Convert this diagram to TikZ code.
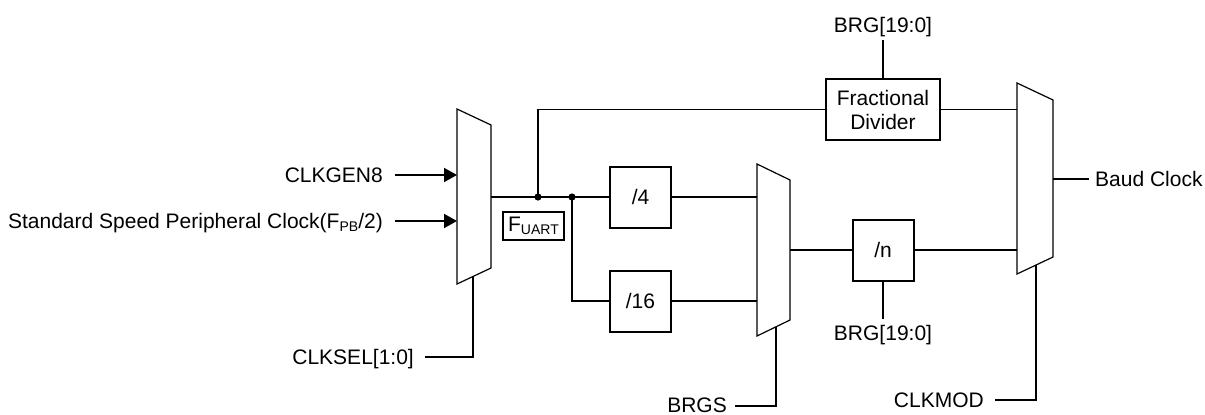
\documentclass[tikz,border=0pt]{standalone}
\usepackage{fontspec}
\setmainfont{Liberation Sans}
\usetikzlibrary{arrows.meta}
\newcommand\lowtxt[1]{\raisebox{-0.3ex}{\fontsize{14}{14}\selectfont #1}}
\begin{document}
\begin{tikzpicture}[x=1pt,y=-1pt, font=\fontsize{21}{24}\selectfont,
  wire/.style={line width=2pt},
  thinwire/.style={line width=1.3pt},
  blk/.style={draw, line width=2pt, minimum width=61pt, minimum height=61pt, inner sep=0pt, align=center},
  oneline/.style={text height=14.7pt, text depth=0pt},
  muxshape/.style={draw, line width=1.2pt, fill=white},
  lbl/.style={inner sep=0pt, text height=14.7pt, text depth=0pt},
  arr/.style={-{Triangle[length=13pt,width=14pt]}}]
\useasboundingbox (0,0) rectangle (1205,415);

% muxes
\draw[muxshape] (457,109) -- (491,125) -- (491,268) -- (457,284) -- cycle;
\draw[muxshape] (757,164) -- (790,180) -- (790,320) -- (757,336) -- cycle;
\draw[muxshape] (1017,83) -- (1053,100) -- (1053,257) -- (1017,274) -- cycle;
\coordinate (m1in1) at (457,175);
\coordinate (m1in2) at (457,221);
\coordinate (m1out) at (491,197);
\coordinate (m1sel) at (473,276.5);
\coordinate (m2in1) at (757,197);
\coordinate (m2in2) at (757,301);
\coordinate (m2out) at (790,250);
\coordinate (m2sel) at (776,326.8);
\coordinate (m3in1) at (1017,109.5);
\coordinate (m3in2) at (1017,250);
\coordinate (m3out) at (1053,179);
\coordinate (m3sel) at (1036,265);

% blocks
\node[blk, oneline] (d4) at (640.5,197) {/4};
\node[blk, oneline] (d16) at (640.5,301) {/16};
\node[blk, oneline] (dn) at (883,250) {/n};
\node[blk, minimum width=114pt] (frac) at (883,109.5) {Fractional\\Divider};
\node[draw, line width=1.6pt, minimum width=61pt, minimum height=28pt, inner sep=0pt] (fu) at (533.5,226) {F\lowtxt{UART}};

% labels
\node[lbl, anchor=east] (clkgen) at (383,175) {CLKGEN8};
\node[lbl, anchor=east] (std) at (383,221) {Standard Speed Peripheral Clock(F\lowtxt{PB}/2)};
\node[lbl, anchor=east] (clksel) at (414,357) {CLKSEL[1:0]};
\node[lbl, anchor=east] (brgs) at (727,405.5) {BRGS};
\node[lbl, anchor=east] (clkmod) at (984,400) {CLKMOD};
\node[lbl] (brgtop) at (883,25) {BRG[19:0]};
\node[lbl] (brgbot) at (883,333) {BRG[19:0]};
\node[lbl, anchor=west] (baud) at (1095,179) {Baud Clock};

% junctions
\coordinate (j1) at (538,197);
\coordinate (j2) at (572,197);

% connectors
\draw[wire, arr, shorten <=12pt] (clkgen.east) -- (m1in1);
\draw[wire, arr, shorten <=12pt] (std.east) -- (m1in2);
\draw[wire, shorten <=11pt] (clksel.east) -| (m1sel);
\draw[wire] (m1out) -- (j1) -- (j2) -- (d4.west);
\draw[thinwire] (j1) |- (frac.west);
\draw[thinwire] (frac.east) -- (m3in1);
\draw[wire] (j2) |- (d16.west);
\draw[wire] (d4.east) -- (m2in1);
\draw[wire] (d16.east) -- (m2in2);
\draw[wire, shorten <=8pt] (brgs.east) -| (m2sel);
\draw[wire] (m2out) -- (dn.west);
\draw[wire] (dn.east) -- (m3in2);
\draw[wire, shorten <=7.5pt] (brgtop.south) -- (frac.north);
\draw[wire, shorten <=6.5pt] (brgbot.north) -- (dn.south);
\draw[wire, shorten <=11pt] (clkmod.east) -| (m3sel);
\draw[wire, shorten >=6pt] (m3out) -- (baud.west);
\fill (j1) circle (3.6);
\fill (j2) circle (3.6);
\end{tikzpicture}
\end{document}
